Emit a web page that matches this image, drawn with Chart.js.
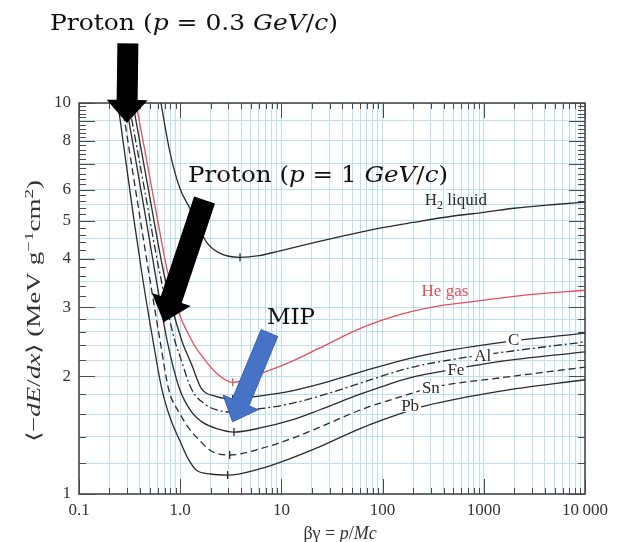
<!DOCTYPE html>
<html><head><meta charset="utf-8">
<script src="https://cdn.jsdelivr.net/npm/chart.js@4.4.0/dist/chart.umd.min.js"></script>
<style>html,body{margin:0;padding:0;background:#fff;}#c{display:block;}</style>
</head><body>
<canvas id="c" width="620" height="542"></canvas>
<script>
// ---------------- data ----------------
const h2X = [0.645, 0.79, 0.99, 1.24, 1.5, 1.82, 2.45, 3.9, 6, 9.5, 20, 44, 100, 200, 500, 1050, 2000, 5000, 10000];
const h2Y = [10, 7.5, 6.06, 5.39, 4.85, 4.41, 4.13, 4.03, 4.07, 4.18, 4.38, 4.59, 4.80, 4.95, 5.14, 5.26, 5.38, 5.50, 5.58];

const heX = [0.365, 0.45, 0.6, 0.75, 0.99, 1.29, 1.44, 1.81, 2.27, 3.3, 6.5, 12, 23.7, 58, 116, 196, 400, 891, 3000, 10000];
const heY = [10, 7.5, 5.0, 3.7, 2.87, 2.48, 2.36, 2.18, 2.04, 1.93, 2.04, 2.17, 2.36, 2.64, 2.82, 2.93, 3.04, 3.12, 3.24, 3.32];

const cX = [0.34, 0.5, 0.7, 1.03, 1.3, 1.62, 2.2, 3.3, 6.5, 12, 23.7, 60, 182, 500, 1650, 10000];
const cY = [10, 5.75, 3.6, 2.48, 2.14, 1.86, 1.78, 1.75, 1.785, 1.83, 1.91, 2.05, 2.22, 2.34, 2.45, 2.58];

const alX = [0.31, 0.45, 0.6, 0.88, 1.0, 1.3, 1.8, 2.3, 3.3, 6.5, 12, 23.7, 60, 182, 500, 1000, 10000];
const alY = [10, 5.9, 3.9, 2.48, 2.24, 1.85, 1.69, 1.64, 1.62, 1.655, 1.70, 1.78, 1.92, 2.10, 2.21, 2.27, 2.45];

const feX = [0.29, 0.45, 0.6, 0.74, 0.99, 1.3, 1.7, 2.3, 3.4, 6.5, 12, 23.7, 60, 182, 530, 1413, 10000];
const feY = [10, 5.2, 3.35, 2.48, 1.85, 1.62, 1.52, 1.47, 1.44, 1.48, 1.54, 1.64, 1.80, 1.98, 2.09, 2.18, 2.31];

const snX = [0.265, 0.4, 0.5, 0.63, 0.77, 1.0, 1.2, 1.56, 2.0, 3.08, 6.5, 12, 23.7, 60, 182, 300, 1413, 10000];
const snY = [10, 5.1, 3.56, 2.48, 1.85, 1.6, 1.48, 1.37, 1.29, 1.258, 1.31, 1.38, 1.48, 1.64, 1.80, 1.87, 1.98, 2.11];

const pbX = [0.242, 0.35, 0.43, 0.537, 0.66, 0.8, 0.99, 1.2, 1.45, 2.0, 2.94, 6.5, 12, 23.7, 60, 145, 264, 1413, 10000];
const pbY = [10, 5.0, 3.5, 2.48, 1.85, 1.56, 1.37, 1.23, 1.15, 1.125, 1.118, 1.165, 1.23, 1.32, 1.47, 1.60, 1.68, 1.83, 1.96];

// minimum-ionization marks on each curve
const minX = [3.9, 3.3, 3.3, 3.3, 3.4, 3.08, 2.94];
const minY = [4.03, 1.93, 1.75, 1.62, 1.44, 1.258, 1.118];

const curveNames = ['H2 liquid', 'He gas', 'C', 'Al', 'Fe', 'Sn', 'Pb'];
const labelX = [530, 413, 1977, 977, 530, 300, 187];
const labelY = [5.65, 3.32, 2.48, 2.26, 2.08, 1.87, 1.68];

const xTickValues = [0.1, 1, 10, 100, 1000, 10000];
const xTickLabels = ['0.1', '1.0', '10', '100', '1000', '10\u2009000'];
const yTickValues = [1, 2, 3, 4, 5, 6, 8, 10];
const yTickLabels = ['1', '2', '3', '4', '5', '6', '8', '10'];

// ---------------- helpers ----------------
const pts = (xs, ys) => xs.map((x, i) => ({x: x, y: ys[i]}));
const INK = '#2b2b2b';
const RED = '#e2505a';
const GRID = '#bcdff2';
const SERIF = '"Liberation Serif", "Times New Roman", serif';
const WIDE = '"DejaVu Serif", serif';

const xGrid = [];
for (let e = -1; e <= 4; e++) for (let m = 1; m <= 9; m++) { const v = m * Math.pow(10, e); if (v <= 10000 + 1e-9) xGrid.push(+v.toPrecision(6)); }
const yGrid = [];
for (let v = 1; v < 3 - 1e-9; v += 0.2) yGrid.push(+v.toFixed(2));
[3, 3.5, 4, 4.5, 5, 5.5, 6, 7, 8, 9, 10].forEach(v => yGrid.push(v));
const yMinor = [];
for (let v = 1; v <= 10 + 1e-9; v += 0.2) yMinor.push(+v.toFixed(2));

function lineDs(label, xs, ys, color, dash) {
  return {label, data: pts(xs, ys), showLine: true, borderColor: color, borderWidth: 1.3,
          borderDash: dash || [], pointRadius: 0, cubicInterpolationMode: 'monotone', fill: false};
}

function fontOf(s, size, fam) { const sz = (s.sup || s.sub) ? size * 0.7 : size; return (s.it ? 'italic ' : '') + sz.toFixed(1) + 'px ' + fam; }
function richWidth(ctx, segs, size, fam) { let w = 0; segs.forEach(s => { ctx.font = fontOf(s, size, fam); w += ctx.measureText(s.t).width; }); return w; }
function drawRich(ctx, segs, x, y, size, color, o) {
  o = o || {};
  const fam = o.fam || SERIF;
  const w = richWidth(ctx, segs, size, fam);
  const sx = o.width ? o.width / w : 1;
  ctx.save();
  ctx.translate(x, y);
  if (o.rotate) ctx.rotate(o.rotate);
  ctx.scale(sx, 1);
  let cx = o.align === 'center' ? -w / 2 : 0;
  ctx.textAlign = 'left'; ctx.textBaseline = 'alphabetic'; ctx.fillStyle = color;
  segs.forEach(s => {
    ctx.font = fontOf(s, size, fam);
    const dy = s.sup ? -size * 0.38 : (s.sub ? size * 0.22 : 0);
    ctx.fillText(s.t, cx, dy);
    cx += ctx.measureText(s.t).width;
  });
  ctx.restore();
}
function arrow(ctx, tx, ty, hx, hy, sw, hw, hl, fill, stroke) {
  const dx = hx - tx, dy = hy - ty, L = Math.hypot(dx, dy);
  const ux = dx / L, uy = dy / L, px = -uy, py = ux;
  const bx = hx - ux * hl, by = hy - uy * hl;
  ctx.save();
  ctx.beginPath();
  ctx.moveTo(tx + px * sw / 2, ty + py * sw / 2);
  ctx.lineTo(bx + px * sw / 2, by + py * sw / 2);
  ctx.lineTo(bx + px * hw / 2, by + py * hw / 2);
  ctx.lineTo(hx, hy);
  ctx.lineTo(bx - px * hw / 2, by - py * hw / 2);
  ctx.lineTo(bx - px * sw / 2, by - py * sw / 2);
  ctx.lineTo(tx - px * sw / 2, ty - py * sw / 2);
  ctx.closePath();
  ctx.fillStyle = fill; ctx.fill();
  if (stroke) { ctx.strokeStyle = stroke; ctx.lineWidth = 1; ctx.stroke(); }
  ctx.restore();
}

// frame + inward ticks
const framePlugin = {
  id: 'frame',
  beforeDatasetsDraw(chart) {
    const {ctx, chartArea: a, scales: {x, y}} = chart;
    ctx.save();
    ctx.strokeStyle = '#4a4a4a'; ctx.lineWidth = 1;
    ctx.beginPath();
    xGrid.forEach(v => {
      const p = Math.round(x.getPixelForValue(v)) + 0.5;
      const major = xTickValues.some(t => Math.abs(t - v) < 1e-9);
      const len = major ? 15 : 6;
      ctx.moveTo(p, a.bottom); ctx.lineTo(p, a.bottom - len);
      ctx.moveTo(p, a.top); ctx.lineTo(p, a.top + len);
    });
    yMinor.forEach(v => {
      const p = Math.round(y.getPixelForValue(v)) + 0.5;
      const major = Math.abs(v - Math.round(v)) < 1e-6;
      const len = major ? 16 : 7;
      ctx.moveTo(a.left, p); ctx.lineTo(a.left + len, p);
      ctx.moveTo(a.right, p); ctx.lineTo(a.right - len, p);
    });
    ctx.stroke();
    ctx.lineWidth = 1.6;
    ctx.strokeRect(a.left, a.top, a.right - a.left, a.bottom - a.top);
    ctx.restore();
  }
};

// curve labels, arrows, annotation text, axis titles
const annoPlugin = {
  id: 'anno',
  afterDatasetsDraw(chart) {
    const {ctx, scales: {x, y}} = chart;
    curveNames.forEach((name, i) => {
      const px = x.getPixelForValue(labelX[i]), py = y.getPixelForValue(labelY[i]);
      const segs = name === 'H2 liquid' ? [{t: 'H'}, {t: '2', sub: true}, {t: ' liquid'}] : [{t: name}];
      const sz = 17;
      const w = richWidth(ctx, segs, sz, SERIF);
      ctx.fillStyle = '#ffffff';
      if (i >= 2) ctx.fillRect(px - w / 2 - 2, py - 6, w + 4, 12);
      drawRich(ctx, segs, px, py + 5.5, sz, i === 1 ? RED : INK, {align: 'center'});
    });
    const P = (vx, vy) => [x.getPixelForValue(vx), y.getPixelForValue(vy)];
    let t, h;
    t = P(0.304, 14.2); h = P(0.297, 8.89);
    arrow(ctx, t[0], t[1], h[0], h[1], 21, 41, 23, '#000000');
    t = P(1.74, 5.65); h = P(0.687, 2.75);
    arrow(ctx, t[0], t[1], h[0], h[1], 22, 41, 24, '#000000');
    t = P(7.62, 2.58); h = P(3.29, 1.53);
    arrow(ctx, t[0], t[1], h[0], h[1], 18, 38, 21, '#4673c6', '#3b62ae');
  },
  afterDraw(chart) {
    const {ctx} = chart;
    drawRich(ctx, [{t: 'Proton ('}, {t: 'p', it: true}, {t: ' = 0.3 '}, {t: 'GeV', it: true}, {t: '/'}, {t: 'c', it: true}, {t: ')'}],
             50, 30, 23, '#111', {width: 288, fam: WIDE});
    drawRich(ctx, [{t: 'Proton ('}, {t: 'p', it: true}, {t: ' = 1 '}, {t: 'GeV', it: true}, {t: '/'}, {t: 'c', it: true}, {t: ')'}],
             188, 182, 23, '#111', {width: 260, fam: WIDE});
    drawRich(ctx, [{t: 'MIP'}], 267, 324, 23, '#111', {width: 48, fam: WIDE});
    drawRich(ctx, [{t: '\u27e8\u2212'}, {t: 'dE', it: true}, {t: '/'}, {t: 'dx', it: true}, {t: '\u27e9 (MeV g'},
                   {t: '\u22121', sup: true}, {t: 'cm'}, {t: '2', sup: true}, {t: ')'}],
             40, 311, 19, '#333', {align: 'center', rotate: -Math.PI / 2, width: 262});
    drawRich(ctx, [{t: '\u03b2\u03b3 = '}, {t: 'p', it: true}, {t: '/'}, {t: 'Mc', it: true}],
             340, 539, 18, '#333', {align: 'center'});
  }
};

const labelIdx = (vals, v) => vals.findIndex(t => Math.abs(t - v) < 1e-9 * Math.max(1, t));

new Chart(document.getElementById('c'), {
  type: 'scatter',
  data: {
    datasets: [
      lineDs('H2 liquid', h2X, h2Y, INK),
      lineDs('He gas', heX, heY, RED),
      lineDs('C', cX, cY, INK),
      lineDs('Al', alX, alY, INK, [8, 3, 2, 3]),
      lineDs('Fe', feX, feY, INK),
      lineDs('Sn', snX, snY, INK, [7, 4]),
      lineDs('Pb', pbX, pbY, INK),
      {label: 'minima', data: pts(minX, minY), showLine: false, pointStyle: 'line', rotation: 90,
       pointRadius: 4, borderWidth: 1.3, pointBorderColor: [INK, RED, INK, INK, INK, INK, INK]}
    ]
  },
  options: {
    responsive: false, animation: false, devicePixelRatio: 1,
    layout: {padding: {top: 103, right: 35, left: 0, bottom: 0}},
    plugins: {legend: {display: false}, tooltip: {enabled: false}, title: {display: false}},
    scales: {
      x: {
        type: 'logarithmic', min: 0.1, max: 10000,
        afterBuildTicks: s => { s.ticks = xGrid.map(v => ({value: v})); },
        afterFit: s => { s.height = 48; },
        grid: {color: GRID, lineWidth: 1, drawTicks: false},
        border: {display: false},
        ticks: {autoSkip: false, maxRotation: 0, padding: 6, color: '#333',
                font: {family: SERIF, size: 17},
                callback: v => { const i = labelIdx(xTickValues, v); return i >= 0 ? xTickLabels[i] : ''; }}
      },
      y: {
        type: 'logarithmic', min: 1, max: 10,
        afterBuildTicks: s => { s.ticks = yGrid.map(v => ({value: v})); },
        afterFit: s => { s.width = 79; },
        grid: {color: GRID, lineWidth: 1, drawTicks: false},
        border: {display: false},
        ticks: {autoSkip: false, padding: 8, color: '#333',
                font: {family: SERIF, size: 17},
                callback: v => { const i = labelIdx(yTickValues, v); return i >= 0 ? yTickLabels[i] : ''; }}
      }
    }
  },
  plugins: [framePlugin, annoPlugin]
});
</script>
</body></html>
